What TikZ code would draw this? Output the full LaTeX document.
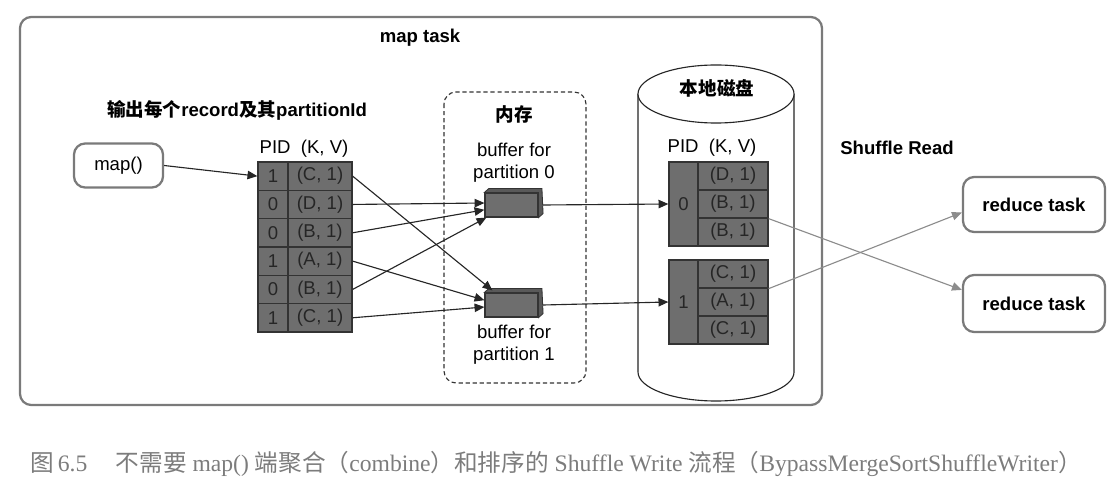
\documentclass[tikz,border=0pt]{standalone}
\usepackage{fontspec}
\usepackage{tikz}
\usetikzlibrary{arrows.meta}
\setmainfont{Liberation Sans}
\newfontfamily\zhfont{Noto Sans CJK SC}
\newfontfamily\capserif{Liberation Serif}
\newcommand{\zh}[1]{{\zhfont #1}}
\definecolor{cellfill}{HTML}{6E6E6E}
\definecolor{celltext}{HTML}{262626}
\definecolor{boxgray}{HTML}{7A7A7A}
\definecolor{capgray}{HTML}{7C7C7C}

\tikzset{
  task/.style={draw=boxgray, line width=1.6pt, rounded corners=0.28cm, fill=white},
  cell/.style={draw=black!80, fill=cellfill, line width=0.9pt, text=celltext,
    inner sep=0pt, minimum height=0.708cm},
  buf/.style={draw=black!80, fill=cellfill, line width=0.8pt, inner sep=0pt,
    minimum width=1.325cm, minimum height=0.6cm},
  arr/.style={-{Triangle[length=7pt,width=6pt]}, line width=0.8pt, draw=black!85},
  garr/.style={-{Triangle[length=7pt,width=6pt]}, line width=0.8pt, draw=black!45},
  lbl/.style={inner sep=0pt, align=center},
  bold/.style={font=\fontsize{13.2}{15}\selectfont\bfseries}
}

\begin{document}
\begin{tikzpicture}[x=0.025cm, y=-0.025cm, font=\fontsize{13.2}{15.5}\selectfont]
\useasboundingbox (0,0) rectangle (1120,478);

% map task frame
\draw[task] (20,17) rectangle (822,405);
\node[lbl, bold] (title) at (420,38) {map task};
\node[lbl, bold] (head) at (237,110)
  {\zh{输出每个}record\zh{及其}partitionId};

% map()
\node[task, minimum width=2.225cm, minimum height=1.1cm] (map) at (118.5,165.5) {map()};

% records written by map()
\node[lbl] (pid1) at (304,149) {PID~~(K, V)};
\foreach \pid/\key [count=\i] in {1/C,0/D,0/B,1/A,0/B,1/C} {
  \node[cell, minimum width=0.75cm] (p\i) at (273,{147.8+28.33*\i}) {\pid};
  \node[cell, minimum width=1.6cm] (r\i) at (320,{147.8+28.33*\i}) {(\key, 1)};
}

% memory
\draw[black!80, densely dashed, line width=0.8pt, rounded corners=0.3cm]
  (444,92) rectangle (586,383);
\node[lbl, bold] (mem) at (514,114) {\zh{内存}};
\node[lbl] (cap0) at (514,163) {buffer for\\partition 0};
\node[lbl] (cap1) at (514,345) {buffer for\\partition 1};
\foreach \n/\y in {b0/205, b1/305} {
  \node[buf] (\n) at (511.5,\y) {};
  \draw[black!80, fill=black!65, line width=0.6pt]
    (\n.north west) -- ++(4.5,-4) -- ++(53,0) -- ([xshift=0.1125cm,yshift=0.1cm]\n.south east)
    -- (\n.south east) -- (\n.north east) -- cycle;
}

% local disk
\draw[black!85, line width=0.8pt, fill=white] (638,94) -- (638,372)
  arc[start angle=180, end angle=360, x radius=1.95cm, y radius=0.725cm] -- (794,94);
\draw[black!85, line width=0.8pt, fill=white] (716,94) ellipse[x radius=1.95cm, y radius=0.725cm];
\node[lbl, bold] (disk) at (717,88) {\zh{本地磁盘}};
\node[lbl] (pid2) at (712,148) {PID~~(K, V)};
\node[cell, minimum width=0.725cm, minimum height=2.1cm] (d0) at (683.5,204) {0};
\node[cell, minimum width=0.725cm, minimum height=2.1cm] (d1) at (683.5,302) {1};
\foreach \key/\y [count=\i] in {D/176,B/204,B/232,C/274,A/302,C/330} {
  \node[cell, minimum width=1.75cm, minimum height=0.7cm] (e\i) at (733,\y) {(\key, 1)};
}

% shuffle read
\node[lbl, bold] (read) at (897,148) {Shuffle Read};
\node[task, bold, minimum width=3.55cm, minimum height=1.375cm]
  (red1) at (1034,204.5) {reduce task};
\node[task, bold, minimum width=3.55cm, minimum height=1.425cm]
  (red2) at (1034,303.5) {reduce task};

% connectors
\draw[arr] (map.east) -- (p1.west);
\draw[arr] (r1.east) -- ([xshift=0.2cm,yshift=0.05cm]b1.north west);
\draw[arr] (r2.east) -- ([yshift=0.05cm]b0.west);
\draw[arr] (r3.east) -- ([yshift=-0.12cm]b0.west);
\draw[arr] (r4.east) -- ([yshift=0.12cm]b1.west);
\draw[arr] (r5.east) -- ([xshift=0.05cm]b0.south west);
\draw[arr] (r6.east) -- ([yshift=-0.05cm]b1.west);
\draw[arr] ([xshift=0.1125cm]b0.east) -- (d0.west);
\draw[arr] ([xshift=0.1125cm]b1.east) -- (d1.west);
\draw[garr] (e2.south east) -- ([yshift=0.34cm]red2.west);
\draw[garr] (e4.south east) -- ([yshift=-0.2cm]red1.west);

% caption
\node[lbl, text=capgray, font=\fontsize{16.8}{18}\selectfont\capserif] (cap) at (556,464)
  {\zh{图}\,6.5\hspace{1.2em}\zh{不需要} map() \zh{端聚合（}combine\zh{）和排序的} Shuffle Write \zh{流程（}BypassMergeSortShuffleWriter\zh{）}};
\end{tikzpicture}
\end{document}
